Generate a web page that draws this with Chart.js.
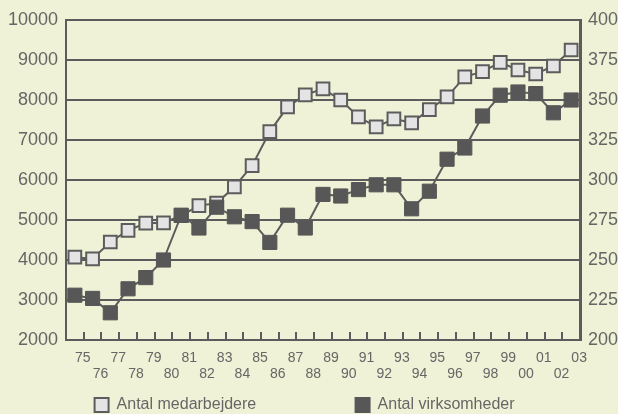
<!DOCTYPE html>
<html>
<head>
<meta charset="utf-8">
<script src="https://cdn.jsdelivr.net/npm/chart.js@4.4.1/dist/chart.umd.min.js"></script>
<style>
  html, body { margin: 0; padding: 0; background: #eff2d6; }
  #wrap { width: 618px; height: 414px; }
</style>
</head>
<body>
<div id="wrap"><canvas id="myChart" width="618" height="414"></canvas></div>
<script>
// years 1975 - 2003
var years = ['75','76','77','78','79','80','81','82','83','84','85','86','87','88','89',
             '90','91','92','93','94','95','96','97','98','99','00','01','02','03'];

// Antal medarbejdere (left axis)
var medarbejdere = [4070, 4030, 4450, 4740, 4920, 4930, 5110, 5360, 5420, 5830, 6360, 7210, 7830, 8130, 8280,
                    8000, 7580, 7330, 7530, 7430, 7760, 8080, 8580, 8710, 8940, 8750, 8650, 8850, 9250];

// Antal virksomheder (right axis)
var virksomheder = [228, 226, 217, 232, 239, 250, 278, 270, 283, 277, 274, 261, 278, 270, 291,
                    290, 294, 297, 297, 282, 293, 313, 320, 340, 353, 355, 354, 342, 350];

var leftTicks = [2000, 10000, 1000];
var rightTicks = [200, 400, 25];

var grey = '#5c5c5c';
var dark = '#575757';
var txt = '#666666';
var fontName = "'Liberation Sans', Arial, sans-serif";

// odd years on first row, even years on second row
var labels = [];
years.forEach(function(y, i) {
    labels.push(i % 2 === 0 ? [y, ''] : ['', y]);
});

// trailing spaces to spread the two legend entries apart
var legendSpaces = [21, 2];

// small tick marks pointing up from the x axis, between the years
const innerTicks = {
    id: 'innerTicks',
    afterDraw: function(chart) {
        var x = chart.scales.x;
        var ctx = chart.ctx;
        var bottom = chart.chartArea.bottom;
        ctx.save();
        ctx.strokeStyle = grey;
        ctx.lineWidth = 2;
        for (var i = 1; i < years.length; i++) {
            var px = Math.round((x.getPixelForTick(i - 1) + x.getPixelForTick(i)) / 2);
            ctx.beginPath();
            ctx.moveTo(px, bottom + 1);
            ctx.lineTo(px, bottom - 8);
            ctx.stroke();
        }
        ctx.restore();
    }
};

function noOverflow(s) {
    s.paddingTop = 0;
    s.paddingBottom = 0;
    s.paddingLeft = 0;
    s.paddingRight = 0;
}

var data = {
    labels: labels,
    datasets: [{
        label: 'Antal medarbejdere',
        data: medarbejdere,
        yAxisID: 'y',
        order: 1,
        borderColor: grey,
        backgroundColor: '#e4e4e4',
        borderWidth: 2,
        pointStyle: 'rect',
        pointRadius: 9,
        pointBorderWidth: 2,
        pointBackgroundColor: '#e4e4e4',
        pointBorderColor: grey,
        tension: 0
    }, {
        label: 'Antal virksomheder',
        data: virksomheder,
        yAxisID: 'y1',
        order: 0,
        borderColor: grey,
        backgroundColor: dark,
        borderWidth: 2,
        pointStyle: 'rect',
        pointRadius: 10,
        pointBorderWidth: 1,
        pointBackgroundColor: dark,
        pointBorderColor: dark,
        tension: 0
    }]
};

const config = {
    type: 'line',
    data: data,
    plugins: [innerTicks],
    options: {
        responsive: false,
        animation: false,
        layout: { padding: { top: 20, left: 0, right: 0, bottom: 0 } },
        plugins: {
            tooltip: { enabled: false },
            legend: {
                position: 'bottom',
                maxHeight: 23,
                labels: {
                    color: txt,
                    font: { family: fontName, size: 16 },
                    boxWidth: 14,
                    boxHeight: 14,
                    padding: 6,
                    generateLabels: function(chart) {
                        var items = Chart.defaults.plugins.legend.labels.generateLabels(chart);
                        items.sort(function(a, b) { return a.datasetIndex - b.datasetIndex; });
                        items.forEach(function(it, i) {
                            it.text = it.text + ' '.repeat(legendSpaces[i]);
                            it.lineWidth = 2;
                            it.strokeStyle = i === 0 ? grey : dark;
                        });
                        return items;
                    }
                }
            }
        },
        scales: {
            x: {
                offset: true,
                grid: { offset: true, drawOnChartArea: false, drawTicks: false },
                border: { color: grey, width: 2 },
                ticks: {
                    color: txt,
                    font: { family: fontName, size: 14, lineHeight: 1.15 },
                    maxRotation: 0,
                    autoSkip: false,
                    labelOffset: 8,
                    padding: 10
                },
                afterFit: function(s) { s.height = 51; noOverflow(s); }
            },
            y: {
                position: 'left',
                min: leftTicks[0],
                max: leftTicks[1],
                ticks: {
                    stepSize: leftTicks[2],
                    color: txt,
                    font: { family: fontName, size: 18 },
                    padding: 8,
                    callback: function(v) { return String(v); }
                },
                grid: { color: grey, lineWidth: 2, drawTicks: false },
                border: { color: grey, width: 2 },
                afterFit: function(s) { s.width = 66; noOverflow(s); }
            },
            y1: {
                position: 'right',
                min: rightTicks[0],
                max: rightTicks[1],
                ticks: {
                    stepSize: rightTicks[2],
                    color: txt,
                    font: { family: fontName, size: 18 },
                    padding: 8,
                    callback: function(v) { return String(v); }
                },
                grid: { drawOnChartArea: false, drawTicks: false },
                border: { color: grey, width: 3 },
                afterFit: function(s) { s.width = 38; noOverflow(s); }
            }
        }
    }
};

const myChart = new Chart(document.getElementById('myChart'), config);
</script>
</body>
</html>
